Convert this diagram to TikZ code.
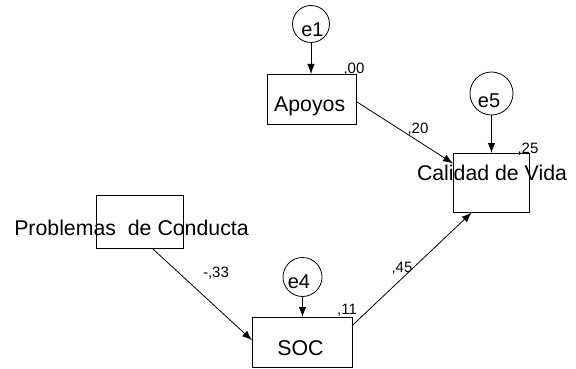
\documentclass[tikz,border=0pt]{standalone}
\usepackage{fontspec}
\setmainfont{Liberation Sans}
\usetikzlibrary{arrows.meta}
\begin{document}
\begin{tikzpicture}[x=1pt,y=-1pt,
  every node/.style={inner sep=0pt,outer sep=0pt},
  var/.style={draw,line width=0.8pt,rectangle},
  err/.style={draw,line width=0.8pt,circle},
  vlabel/.style={anchor=base,font=\fontsize{21.3}{24}\selectfont},
  elabel/.style={anchor=base,font=\fontsize{20}{22}\selectfont},
  coef/.style={anchor=base,font=\fontsize{15}{17}\selectfont},
  path/.style={draw,line width=0.8pt,-{Latex[length=10pt,width=7.5pt]}}]
\useasboundingbox (0,0) rectangle (576,369);

% observed variables
\node[var,minimum width=89pt,minimum height=50pt] (apoyos) at (311.5,99) {};
\node[var,minimum width=76pt,minimum height=59.5pt] (calidad) at (491,182.75) {};
\node[var,minimum width=87pt,minimum height=53pt] (problemas) at (139.5,221.5) {};
\node[var,minimum width=100pt,minimum height=50pt] (soc) at (302,342) {};

% error terms
\node[err,minimum size=37pt] (e1) at (311,24) {};
\node[err,minimum size=43pt] (e5) at (491.5,93.5) {};
\node[err,minimum size=39pt] (e4) at (302.5,277) {};

% variable names
\node[vlabel] (tapoyos) at (309.7,111) {Apoyos};
\node[vlabel] (tcalidad) at (492,180.7) {Calidad de Vida};
\node[vlabel] (tproblemas) at (131.5,235) {Problemas\ \ de Conducta};
\node[vlabel] (tsoc) at (300.5,355) {SOC};
\node[elabel] (te1) at (312.5,37) {e1};
\node[elabel] (te5) at (489,107) {e5};
\node[elabel] (te4) at (299,288) {e4};

% squared multiple correlations
\node[coef] (r2apoyos) at (354,73.3) {,00};
\node[coef] (r2calidad) at (528,153) {,25};
\node[coef] (r2soc) at (347,314) {,11};

% regression weights
\node[coef] (wap) at (418,133) {,20};
\node[coef] (wsc) at (402,272) {,45};
\node[coef] (wps) at (216,277) {-,33};

% error paths
\path[path] (e1) -- (e1 |- apoyos.north);
\path[path] (e5) -- (e5 |- calidad.north);
\path[path] (e4) -- (e4 |- soc.north);

% structural paths
\path[path] (apoyos.-3) -- (calidad.153);
\path[path] (problemas.-65) -- (soc.178);
\path[path] (soc.18) -- (calidad.-123);
\end{tikzpicture}
\end{document}
